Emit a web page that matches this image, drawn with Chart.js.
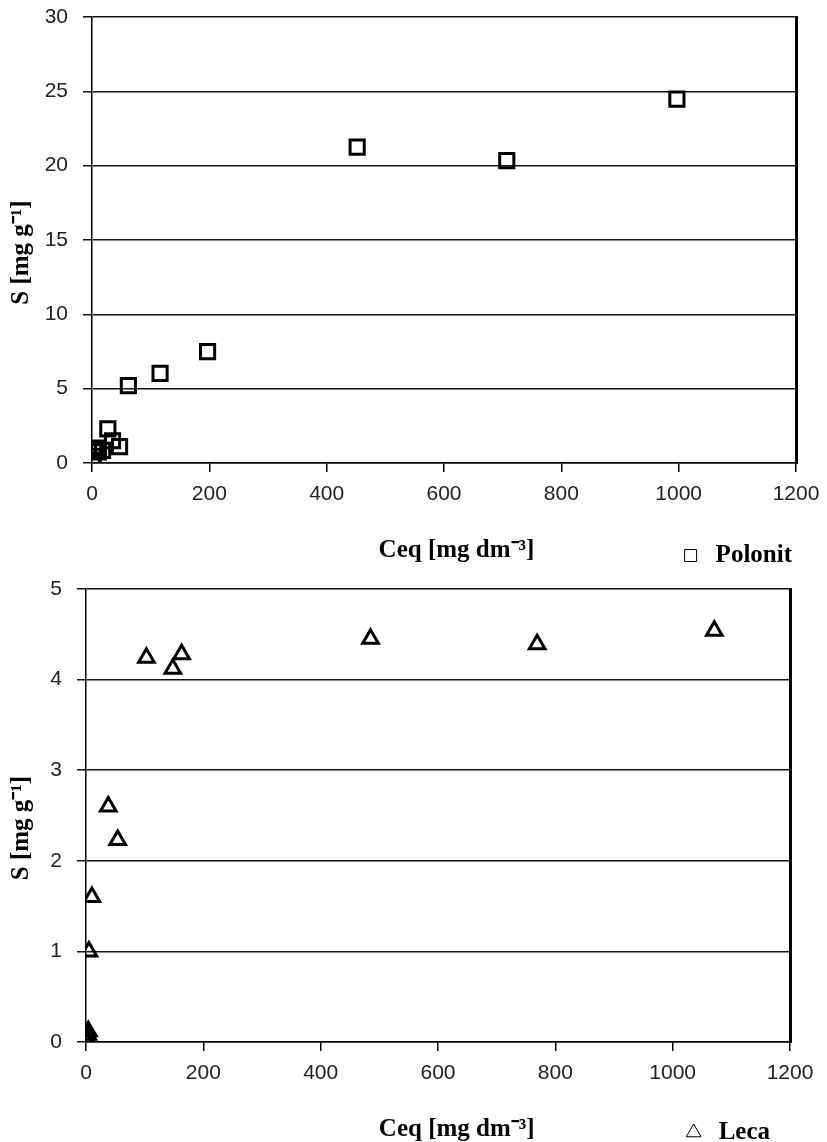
<!DOCTYPE html>
<html>
<head>
<meta charset="utf-8">
<script src="https://cdn.jsdelivr.net/npm/chart.js@4.4.1/dist/chart.umd.min.js"></script>
<style>
  html, body { margin: 0; padding: 0; background: #fff; overflow: hidden; }
  #wrap { position: relative; width: 827px; height: 1142px; overflow: hidden; }
  .box { position: absolute; left: 0; width: 827px; height: 600px; }
  #b1 { top: 0; }
  #b2 { top: 571px; }
</style>
</head>
<body>
<div id="wrap">
  <div class="box" id="b1"><canvas id="c1" width="827" height="600"></canvas></div>
  <div class="box" id="b2"><canvas id="c2" width="827" height="600"></canvas></div>
</div>
<script>
// ---- data ----
const polonitCeq = [0.5, 1, 2, 3, 6, 11, 18, 27, 35, 47, 62, 116, 197, 452, 707, 997];
const polonitS   = [0.05, 0.2, 0.45, 0.9, 1.0, 0.75, 0.85, 2.3, 1.5, 1.1, 5.2, 6.03, 7.49, 21.25, 20.34, 24.48];

const lecaCeq = [0.5, 1, 3, 4, 5, 10, 38, 54, 103, 148, 163, 485, 769, 1071];
const lecaS   = [0.0, 0.04, 0.08, 0.12, 1.0, 1.6, 2.6, 2.23, 4.24, 4.12, 4.28, 4.45, 4.39, 4.54];

const xTickValues    = [0, 200, 400, 600, 800, 1000, 1200];
const yTickValuesTop = [0, 5, 10, 15, 20, 25, 30];
const yTickValuesBot = [0, 1, 2, 3, 4, 5];

const xTitle = 'Ceq [mg dm\u207B\u00B3]';
const yTitle = 'S [mg g\u207B\u00B9]';
const seriesNames = ['Polonit', 'Leca'];

// ---- helpers ----
Chart.defaults.font.family = "'Liberation Sans', Arial, sans-serif";
Chart.defaults.font.size = 21;
Chart.defaults.color = '#222';

function pts(xs, ys) { return xs.map((x, i) => ({ x: x, y: ys[i] })); }
const serif = "'Liberation Serif', 'Times New Roman', serif";
const titleFont = { family: serif, size: 25, weight: 'bold' };
const legendFont = { family: serif, size: 25, weight: 'bold' };
const sp = n => '\u2002'.repeat(n);

function makeChart(id, name, data, style, radius, yTicks, yLeft, L) {
  const yMax = yTicks[yTicks.length - 1];
  return new Chart(document.getElementById(id), {
    type: 'scatter',
    data: {
      datasets: [{
        label: name,
        data: data,
        pointStyle: style,
        pointRadius: radius,
        pointHoverRadius: radius,
        pointBorderWidth: 3,
        borderColor: '#000',
        backgroundColor: 'rgba(0,0,0,0)',
        showLine: false
      }]
    },
    options: {
      responsive: false,
      animation: false,
      events: [],
      layout: { padding: { top: L.top, right: 30, bottom: L.pb, left: 0 } },
      plugins: {
        tooltip: { enabled: false },
        legend: {
          display: true,
          position: 'bottom',
          align: 'end',
          labels: {
            usePointStyle: true,
            boxHeight: 12,
            padding: L.lp,
            color: '#000',
            font: legendFont,
            generateLabels: (chart) => Chart.defaults.plugins.legend.labels.generateLabels(chart).map(l => Object.assign(l, { lineWidth: 1 }))
          }
        }
      },
      scales: {
        x: {
          type: 'linear',
          min: 0, max: 1200,
          afterBuildTicks: s => { s.ticks = xTickValues.map(v => ({ value: v })); },
          afterFit: s => { s.height = L.xh; s.paddingLeft = 0; s.paddingRight = 0; },
          grid: { drawOnChartArea: false, drawTicks: true, tickLength: 9, color: '#000', lineWidth: 1.5 },
          border: { display: true, color: '#000', width: 1.5 },
          ticks: { padding: 10, maxRotation: 0, autoSkip: false, callback: v => String(v) },
          title: { display: true, text: sp(L.lead) + xTitle, color: '#000', font: titleFont, padding: { top: 0, bottom: L.tp } }
        },
        y: {
          type: 'linear',
          min: 0, max: yMax,
          afterBuildTicks: s => { s.ticks = yTicks.map(v => ({ value: v })); },
          afterFit: s => { s.width = yLeft; s.paddingTop = 0; s.paddingBottom = 0; },
          grid: { drawOnChartArea: true, drawTicks: true, tickLength: 9, color: '#111', lineWidth: 1.5 },
          border: { display: true, color: '#000', width: 1.5 },
          ticks: { padding: 15, autoSkip: false, callback: v => String(v) },
          title: { display: true, text: yTitle + sp(2), color: '#000', font: titleFont, padding: { top: 7, bottom: 0 } }
        },
        y2: {
          type: 'linear',
          position: 'right',
          min: 0, max: yMax,
          afterFit: s => { s.width = L.rw; s.paddingTop = 0; s.paddingBottom = 0; },
          grid: { drawOnChartArea: false, drawTicks: false },
          border: { display: true, color: '#000', width: 3 },
          ticks: { display: false }
        }
      }
    }
  });
}

makeChart('c1', seriesNames[0], pts(polonitCeq, polonitS), 'rect', 10, yTickValuesTop, 92,
  { top: 17, xh: 75, pb: 22, tp: -28, lp: 5, rw: 1, lead: 2 });
makeChart('c2', seriesNames[1], pts(lecaCeq, lecaS), 'triangle', 9, yTickValuesBot, 86,
  { top: 18, xh: 51, pb: 16, tp: -52, lp: 27, rw: 7, lead: 3 });
</script>
</body>
</html>
